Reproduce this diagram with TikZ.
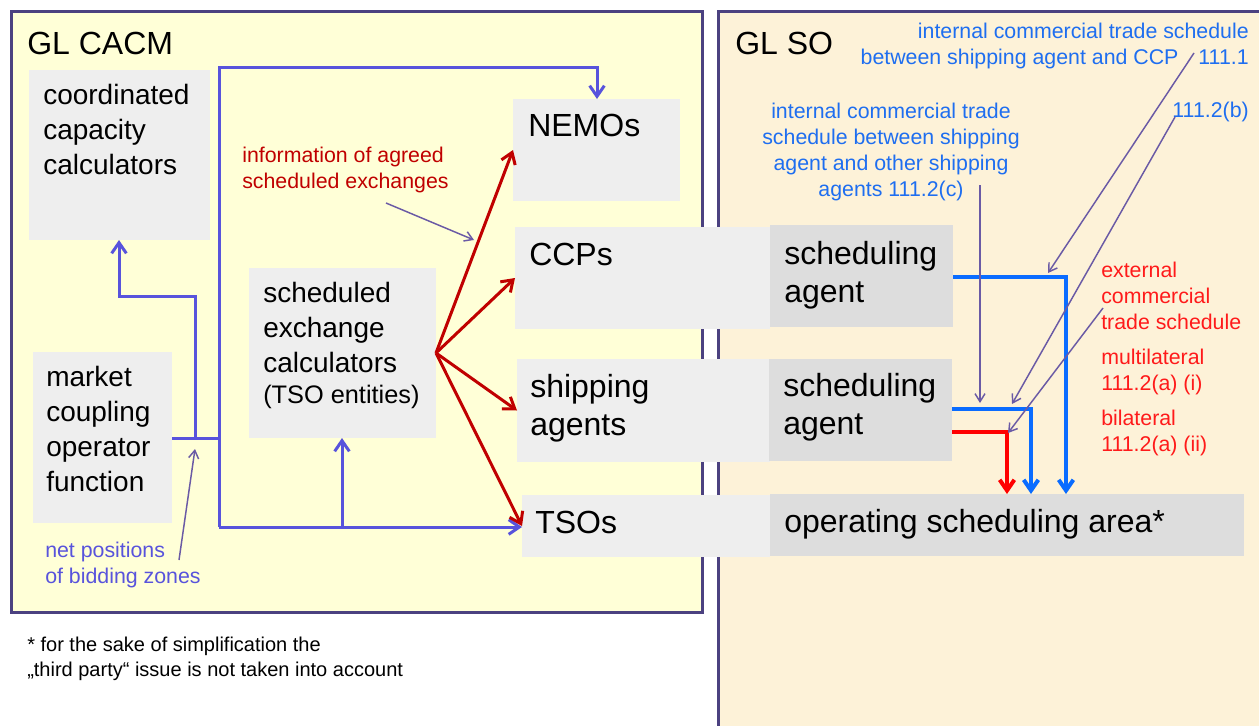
\documentclass[tikz,border=0pt]{standalone}
\usepackage{fontspec}
\setmainfont{Liberation Sans}
\usetikzlibrary{arrows.meta,fit,calc}
\definecolor{framec}{HTML}{4B4180}
\definecolor{lfill}{HTML}{FFFFD7}
\definecolor{rfill}{HTML}{FDF2D8}
\definecolor{lbox}{HTML}{EEEEEE}
\definecolor{dbox}{HTML}{DDDDDD}
\definecolor{bpur}{HTML}{5853DC}
\definecolor{thinc}{HTML}{6A5AA5}
\definecolor{dred}{HTML}{C00000}
\definecolor{bblue}{HTML}{0A6CFF}
\definecolor{tblue}{HTML}{1E6EF0}
\definecolor{bred}{HTML}{FF0000}
\definecolor{tred}{HTML}{FF1A1A}
\begin{document}
\begin{tikzpicture}[x=0.75pt,y=-0.75pt,
  frame/.style={draw=framec,line width=2.25pt},
  lightbox/.style={fill=lbox,draw=none,inner sep=0pt,outer sep=0pt},
  darkbox/.style={fill=dbox,draw=none,inner sep=0pt,outer sep=0pt},
  lbl/.style={inner sep=0pt,align=left,anchor=north west,font=\fontsize{21}{26.25}\selectfont},
  rlbl/.style={inner sep=0pt,align=left,anchor=north west,font=\fontsize{24}{28.5}\selectfont},
  rsingle/.style={inner sep=0pt,anchor=base west,font=\fontsize{24}{28.5}\selectfont},
  note/.style={inner sep=0pt,font=\fontsize{16}{19.5}\selectfont},
  bp/.style={draw=bpur,line width=2.25pt},
  bparrow/.style={bp,-{Straight Barb[length=8pt,width=11pt]}},
  redarrow/.style={draw=dred,line width=2.25pt,-{Straight Barb[length=8pt,width=11pt]}},
  thickarrow/.style={line width=3pt,-{Straight Barb[length=8pt,width=11pt]}},
  thinarrow/.style={draw=thinc,line width=1.1pt,-{Straight Barb[length=6pt,width=7.5pt]}},
]
\fill[white] (0,0) rectangle (1259,725);
\useasboundingbox (0,0) rectangle (1259,725);
\clip (0,0) rectangle (1259,725);

% frames
\path[frame,fill=lfill] (11,11) rectangle (702,612);
\path[frame,fill=rfill] (718,11) rectangle (1300,760);
\node[inner sep=0pt,anchor=base west,font=\fontsize{24}{28}\selectfont] (cacm) at (27,54) {GL CACM};
\node[inner sep=0pt,anchor=base west,font=\fontsize{24}{28}\selectfont] (so) at (735,54) {GL SO};

% boxes
\node[lightbox,fit={(29,70) (210,240)}] (ccc) {};
\node[lightbox,fit={(249,268) (436,438)}] (sec) {};
\node[lightbox,fit={(33,352) (172,523)}] (mcof) {};
\node[lightbox,fit={(513,99) (680,201)}] (nemo) {};
\node[lightbox,fit={(515,227) (770,329)}] (ccp) {};
\node[lightbox,fit={(517,359) (770,462)}] (ship) {};
\node[lightbox,fit={(522,495) (770,557)}] (tso) {};
\node[darkbox,fit={(770,225) (953,327)}] (sa1) {};
\node[darkbox,fit={(769,359) (952,461)}] (sa2) {};
\node[darkbox,fit={(770,494) (1244,556)}] (osa) {};

% box texts
\node[lbl] (ccct) at (43,79.5) {\strut coordinated\\capacity\\calculators};
\node[lbl] (sect) at (263,277.5) {\strut scheduled\\exchange\\calculators\\[-3pt]{\fontsize{19}{23}\selectfont (TSO entities)}};
\node[lbl] (mcoft) at (46,361.5) {\strut market\\coupling\\operator\\function};
\node[rsingle] (nemot) at (528,136) {NEMOs};
\node[rsingle] (ccpt) at (529,265) {CCPs};
\node[rlbl] (shipt) at (530,370.4) {\strut shipping\\agents};
\node[rsingle] (tsot) at (535,533) {TSOs};
\node[rlbl] (sa1t) at (784,237.4) {\strut scheduling\\agent};
\node[rlbl] (sa2t) at (783,369.4) {\strut scheduling\\agent};
\node[rsingle] (osat) at (784,532) {operating scheduling area*};

% annotations
\node[note,text=dred,align=left,anchor=north west] (info) at (242,143.8) {\strut information of agreed\\scheduled exchanges};
\node[note,text=bpur,align=left,anchor=north west] (netpos) at (45,538.8) {\strut net positions\\of bidding zones};
\node[note,text=tblue,align=right,anchor=north east] (ict1) at (1249,19.8) {\strut internal commercial trade schedule\\between shipping agent and CCP\hspace{15pt}111.1};
\node[note,text=tblue,anchor=base east] (ict2b) at (1249,117) {111.2(b)};
\node[note,text=tblue,align=center,anchor=north] (ict2c) at (891,99.8) {\strut internal commercial trade\\schedule between shipping\\agent and other shipping\\agents 111.2(c)};
\node[note,text=tred,align=left,anchor=north west] (ext) at (1101,258.8) {\strut external\\commercial\\trade schedule};
\node[note,text=tred,align=left,anchor=north west] (multi) at (1101,345.8) {\strut multilateral\\111.2(a) (i)};
\node[note,text=tred,align=left,anchor=north west] (bilat) at (1101,406.8) {\strut bilateral\\111.2(a) (ii)};
\node[inner sep=0pt,align=left,anchor=north west,font=\fontsize{15}{18.75}\selectfont] (foot) at (27,633.5) {\strut * for the sake of simplification the\\„third party“ issue is not taken into account};

% blue-purple network
\coordinate (jTL) at (219,67);
\coordinate (jTR) at (597,67);
\coordinate (jBL) at (219,527);
\coordinate (jM) at (219,438);
\coordinate (jSEC) at (342,527);
\coordinate (jC1) at (195,438);
\coordinate (jC2) at (195,296);
\coordinate (jC3) at (119,296);
\draw[bparrow] (jBL) -- (jTL) -- (jTR) -- (jTR |- nemo.north);
\draw[bp] (jM -| mcof.east) -- (jM);
\draw[bparrow] (jC1) -- (jC2) -- (jC3) -- (jC3 |- ccc.south);
\draw[bparrow] (jBL) -- (jBL -| tso.west);
\draw[bparrow] (jSEC) -- (jSEC |- sec.south);

% red arrows
\draw[redarrow] (sec.east) -- (nemo.west);
\draw[redarrow] (sec.east) -- (ccp.west);
\draw[redarrow] (sec.east) -- (ship.west);
\draw[redarrow] (sec.east) -- (tso.west);

% right thick arrows
\coordinate (k1) at (1066,277);
\coordinate (k2) at (1031,409);
\coordinate (k3) at (1007,432);
\draw[thickarrow,draw=bblue] (k1 -| sa1.east) -- (k1) -- (k1 |- osa.north);
\draw[thickarrow,draw=bblue] (k2 -| sa2.east) -- (k2) -- (k2 |- osa.north);
\draw[thickarrow,draw=bred] (k3 -| sa2.east) -- (k3) -- (k3 |- osa.north);

% thin annotation arrows
\coordinate (a1s) at (386,203); \coordinate (a1e) at (474,240);
\coordinate (a2s) at (179,560); \coordinate (a2e) at (195,449);
\coordinate (a3s) at (1194,53); \coordinate (a3e) at (1048,273);
\coordinate (a4s) at (1175,117); \coordinate (a4e) at (1012,404);
\coordinate (a5s) at (980,185); \coordinate (a5e) at (980,403);
\coordinate (a6s) at (1103,308); \coordinate (a6e) at (1008,433);
\draw[thinarrow] (a1s) -- (a1e);
\draw[thinarrow] (a2s) -- (a2e);
\draw[thinarrow] (a3s) -- (a3e);
\draw[thinarrow] (a4s) -- (a4e);
\draw[thinarrow] (a5s) -- (a5e);
\draw[thinarrow] (a6s) -- (a6e);
\end{tikzpicture}
\end{document}
